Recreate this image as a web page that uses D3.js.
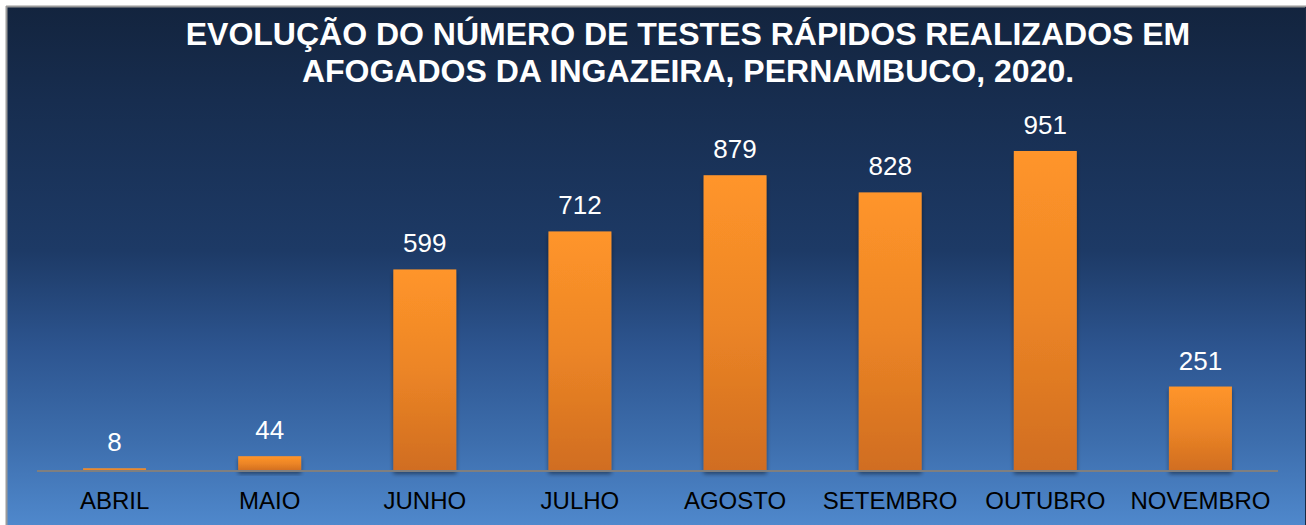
<!DOCTYPE html>
<html><head><meta charset="utf-8">
<script src="https://cdn.jsdelivr.net/npm/d3@7"></script>
<style>html,body{margin:0;padding:0;background:#fff;overflow:hidden}</style>
</head><body>
<svg id="chart" width="1306" height="525"></svg>
<script>
const titleLines = ["EVOLUÇÃO DO NÚMERO DE TESTES RÁPIDOS REALIZADOS EM", "AFOGADOS DA INGAZEIRA, PERNAMBUCO, 2020."];
const categories = ["ABRIL","MAIO","JUNHO","JULHO","AGOSTO","SETEMBRO","OUTUBRO","NOVEMBRO"];
const values = [8, 44, 599, 712, 879, 828, 951, 251];

const W = 1306, H = 525;
const svg = d3.select("#chart");
const defs = svg.append("defs");

const bg = defs.append("linearGradient").attr("id","bg").attr("x1",0).attr("y1",0).attr("x2",0).attr("y2",1);
[[0,"#13243e"],[0.18,"#172d4f"],[0.47,"#1d3a66"],[0.66,"#2d5590"],[0.84,"#3d6ead"],[1,"#4f88cc"]].forEach(([o,c])=>bg.append("stop").attr("offset",o).attr("stop-color",c));

const barG = defs.append("linearGradient").attr("id","barg").attr("x1",0).attr("y1",0).attr("x2",0).attr("y2",1);
[[0,"#ff952a"],[0.5,"#ec8526"],[1,"#d06d20"]].forEach(([o,c])=>barG.append("stop").attr("offset",o).attr("stop-color",c));

const shadow = defs.append("filter").attr("id","sh").attr("x","-20%").attr("y","-20%").attr("width","140%").attr("height","150%");
shadow.append("feGaussianBlur").attr("in","SourceAlpha").attr("stdDeviation",2).attr("result","b");
shadow.append("feOffset").attr("in","b").attr("dy",3).attr("result","o");
shadow.append("feComponentTransfer").attr("in","o").attr("result","o2").append("feFuncA").attr("type","linear").attr("slope",0.45);
const fm = shadow.append("feMerge");
fm.append("feMergeNode").attr("in","o2");
fm.append("feMergeNode").attr("in","SourceGraphic");

// frame
svg.append("rect").attr("x",7).attr("y",7).attr("width",W-7).attr("height",H-7).attr("fill","url(#bg)");
svg.append("line").attr("x1",6.5).attr("x2",6.5).attr("y1",6).attr("y2",H).attr("stroke","#9a9a9a").attr("stroke-width",2);
svg.append("line").attr("x1",6).attr("x2",W).attr("y1",6.5).attr("y2",6.5).attr("stroke","#9a9a9a").attr("stroke-width",2);
svg.append("line").attr("x1",W-0.5).attr("x2",W-0.5).attr("y1",7).attr("y2",H).attr("stroke","#1a2a44").attr("stroke-width",1);

// title
svg.append("g").selectAll("text").data(titleLines).join("text")
  .attr("x",688).attr("y",(d,i)=>44.5+i*37)
  .attr("text-anchor","middle").attr("fill","#ffffff")
  .attr("font-family","Liberation Sans, Arial, sans-serif").attr("font-weight","bold").attr("font-size",32)
  .text(d=>d);

const x = d3.scaleBand().domain(categories).range([37,1278]).paddingInner(0.594).paddingOuter(0.297);
const y = d3.scaleLinear().domain([0,1000]).range([471,134.5]);

// bars
svg.append("g").selectAll("rect").data(values).join("rect")
  .attr("x",(d,i)=>x(categories[i])).attr("width",x.bandwidth())
  .attr("y",d=>y(d)).attr("height",d=>y(0)-y(d))
  .attr("fill","url(#barg)").attr("filter","url(#sh)");

// axis
const ax = svg.append("g").attr("transform",`translate(0,${y(0)})`).call(d3.axisBottom(x).tickSize(0).tickPadding(21));
ax.select(".domain").attr("stroke","#7f7f7f").attr("stroke-width",2).attr("d","M37,0H1278");
ax.selectAll("text").attr("fill","#000").attr("font-family","Liberation Sans, Arial, sans-serif").attr("font-size",24);

// value labels
svg.append("g").selectAll("text").data(values).join("text")
  .attr("x",(d,i)=>x(categories[i])+x.bandwidth()/2).attr("y",d=>y(d)-17)
  .attr("text-anchor","middle").attr("fill","#ffffff")
  .attr("font-family","Liberation Sans, Arial, sans-serif").attr("font-size",26)
  .text(d=>d);
</script>
</body></html>
